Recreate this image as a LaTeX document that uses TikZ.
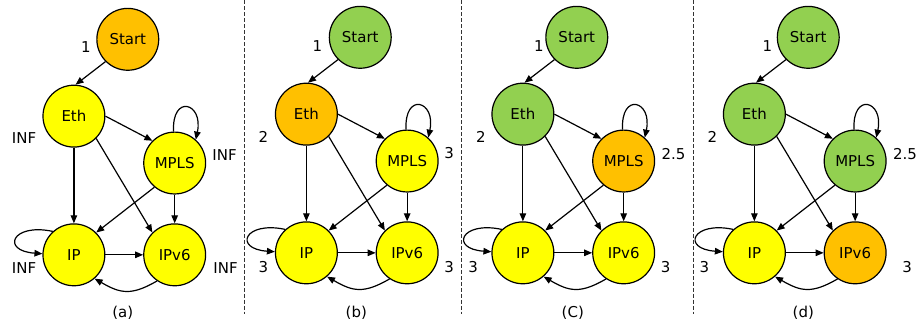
\documentclass[tikz,border=0pt]{standalone}
\usepackage{fontspec}
\setmainfont{DejaVu Sans}
\usetikzlibrary{arrows.meta}
\definecolor{cOr}{HTML}{FFC000}
\definecolor{cYe}{HTML}{FFFF00}
\definecolor{cGr}{HTML}{92D050}
\tikzset{
  vnode/.style={circle,draw=black,line width=1.2pt,minimum size=62pt,inner sep=0pt,font=\fontsize{15}{17}\selectfont},
  arr/.style={-{Triangle[length=8pt,width=6.5pt]},line width=1.2pt},
  lbl/.style={inner sep=0pt,font=\fontsize{15}{17}\selectfont},
  sepline/.style={line width=0.8pt,dash pattern=on 4pt off 2pt,black!80}
}
\newcommand\drawpanel[8]{%
  \begin{scope}[shift={(#1,#2)}]
    \node[vnode,fill=#4] (#3-start) at (54,77) {Start};
    \node[vnode,fill=#5] (#3-eth) at (0,0) {Eth};
    \node[vnode,fill=#6] (#3-mpls) at (101,-47) {MPLS};
    \node[vnode,fill=#7] (#3-ip) at (0,-139) {IP};
    \node[vnode,fill=#8] (#3-ipv6) at (101,-139) {IPv6};
    \draw[arr] (#3-start.225) -- (#3-eth.87);
    \draw[arr] (#3-eth.0) -- (#3-mpls.135);
    \draw[arr] (#3-eth.south) -- (#3-ip.north);
    \draw[arr] (#3-eth.-45) -- (#3-ipv6.135);
    \draw[arr] (#3-mpls.-130) -- (#3-ip.45);
    \draw[arr] (#3-mpls.south) -- (#3-ipv6.north);
    \draw[arr] (#3-ip.east) -- (#3-ipv6.west);
    \draw[arr] (#3-mpls.92) to[out=93,in=78,distance=38pt] (#3-mpls.48);
    \draw[arr] (#3-ip.132) to[out=168,in=176,distance=42pt] (#3-ip.178);
    \draw[arr] (#3-ipv6.236) to[out=210,in=-30,distance=30pt] (#3-ip.-49);
  \end{scope}}
\begin{document}
\begin{tikzpicture}[x=1pt,y=1pt]
\fill[white] (0,0) rectangle (918,-327);
\drawpanel{72}{-116}{a}{cOr}{cYe}{cYe}{cYe}{cYe}
\drawpanel{305}{-114}{b}{cGr}{cOr}{cYe}{cYe}{cYe}
\drawpanel{522}{-114}{c}{cGr}{cGr}{cOr}{cYe}{cYe}
\drawpanel{754}{-114}{d}{cGr}{cGr}{cGr}{cYe}{cOr}
% labels (a)
\node[lbl] (la1) at (84,-47) {1};
\node[lbl] (la2) at (22,-138) {INF};
\node[lbl] (la3) at (223,-155) {INF};
\node[lbl] (la4) at (22,-268) {INF};
\node[lbl] (la5) at (224,-268) {INF};
\node[lbl] (lac) at (121,-313) {(a)};
% labels (b)
\node[lbl] (lb1) at (316,-46) {1};
\node[lbl] (lb2) at (262,-137) {2};
\node[lbl] (lb3) at (448,-153) {3};
\node[lbl] (lb4) at (262,-267) {3};
\node[lbl] (lb5) at (448,-267) {3};
\node[lbl] (lbc) at (355,-313) {(b)};
% labels (c)
\node[lbl] (lc1) at (538,-46) {1};
\node[lbl] (lc2) at (480,-137) {2};
\node[lbl] (lc3) at (673,-154) {2.5};
\node[lbl] (lc4) at (472,-267) {3};
\node[lbl] (lc5) at (665,-267) {3};
\node[lbl] (lcc) at (572,-313) {(C)};
% labels (d)
\node[lbl] (ld1) at (767,-46) {1};
\node[lbl] (ld2) at (712,-137) {2};
\node[lbl] (ld3) at (905,-154) {2.5};
\node[lbl] (ld4) at (704,-267) {3};
\node[lbl] (ld5) at (907,-267) {3};
\node[lbl] (ldc) at (803,-313) {(d)};
% separators
\coordinate (s1t) at (243,0); \coordinate (s1b) at (243,-314);
\coordinate (s2t) at (460,0); \coordinate (s2b) at (460,-314);
\coordinate (s3t) at (693,0); \coordinate (s3b) at (693,-314);
\draw[sepline] (s1t) -- (s1b);
\draw[sepline] (s2t) -- (s2b);
\draw[sepline] (s3t) -- (s3b);
\end{tikzpicture}
\end{document}
